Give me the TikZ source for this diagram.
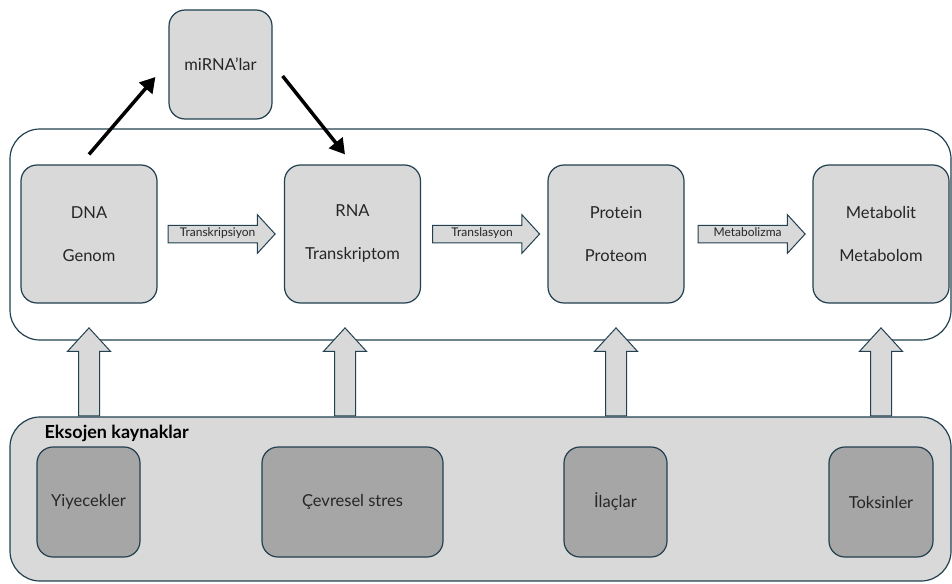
\documentclass[tikz,border=0pt]{standalone}
\usepackage{fontspec}
\setmainfont{Lato}
\usetikzlibrary{shapes.arrows,arrows.meta}

\definecolor{edgeblue}{HTML}{22404F}
\definecolor{boxgray}{HTML}{D9D9D9}
\definecolor{darkgray}{HTML}{A6A6A6}
\definecolor{textgray}{HTML}{262626}

\begin{document}
\begin{tikzpicture}[x=1pt, y=-1pt]

    %--- Styles
    \tikzset{
        omic box/.style={draw=edgeblue, line width=1.2pt, fill=boxgray, rounded corners=16pt,
            minimum width=136pt, minimum height=138pt, align=center, text=textgray,
            font=\fontsize{16.5}{19}\selectfont},
        source box/.style={draw=edgeblue, line width=1.2pt, fill=darkgray, rounded corners=16pt,
            minimum height=110pt, text=textgray, font=\fontsize{16.5}{19}\selectfont},
        flow arrow/.style={single arrow, draw=edgeblue, line width=1pt, fill=boxgray,
            single arrow head extend=10.5pt, single arrow tip angle=95, minimum height=107pt,
            inner xsep=2pt, inner ysep=3pt, text height=8pt, text depth=2.5pt, anchor=tail,
            text=textgray, font=\fontsize{12}{14}\selectfont},
        up arrow/.style={single arrow, draw=edgeblue, line width=1pt, fill=boxgray,
            shape border rotate=90, single arrow head extend=11pt, single arrow tip angle=85,
            minimum height=88pt, inner xsep=10pt, inner ysep=0pt, text width=0pt,
            anchor=tail},
        link/.style={line width=3.5pt, -{Triangle[length=15pt,width=17pt]}},
    }

    \useasboundingbox (0,0) rectangle (952,583);

    %--- Frame of the omics layers
    \node[draw=edgeblue, line width=1.2pt, rounded corners=30pt, minimum width=941pt,
          minimum height=211pt] (omics) at (480.5,234.5) {};

    %--- Omics layers
    \node[omic box] (dna)       at (89,234)    {DNA\\[24pt]Genom};
    \node[omic box] (rna)       at (352.5,234) {RNA\\[24pt]Transkriptom};
    \node[omic box] (protein)   at (616,234)   {Protein\\[24pt]Proteom};
    \node[omic box] (metabolit) at (881,234)   {Metabolit\\[24pt]Metabolom};

    %--- miRNA
    \node[omic box, minimum width=103pt, minimum height=109pt] (mirna) at (220.5,64.5) {miRNA’lar};

    %--- Flow between layers
    \node[flow arrow] (transkr) at ([xshift=10pt]dna.east)     {Transkripsiyon};
    \node[flow arrow] (transl)  at ([xshift=11pt]rna.east)     {Translasyon};
    \node[flow arrow] (metab)   at ([xshift=13pt]protein.east) {Metabolizma};

    %--- miRNA regulation
    \draw[link] ([yshift=10pt]dna.north) -- ([xshift=-13pt,yshift=-12.5pt]mirna.west);
    \draw[link] ([xshift=10pt,yshift=-11.5pt]mirna.east) -- ([xshift=-7.5pt,yshift=10pt]rna.north);

    %--- Exogenous sources
    \node[draw=edgeblue, line width=1.2pt, fill=boxgray, rounded corners=30pt, minimum width=941pt,
          minimum height=164pt] (ekso) at (480.5,499) {};
    \node[anchor=west, font=\fontsize{18}{21}\selectfont\bfseries, text=black] (eksotitle)
          at (41,433) {Eksojen kaynaklar};

    \node[source box, minimum width=103pt] (yiyecek) at (88.5,502)  {Yiyecekler};
    \node[source box, minimum width=181pt] (cevre)   at (352.5,502) {Çevresel stres};
    \node[source box, minimum width=103pt] (ilac)    at (615.5,502) {İlaçlar};
    \node[source box, minimum width=104pt] (toksin)  at (881,502)   {Toksinler};

    %--- Influence on the layers
    \node[up arrow] (u1) at (dna |- ekso.north) {};
    \node[up arrow] (u2) at ([xshift=-7.5pt]rna |- ekso.north) {};
    \node[up arrow] (u3) at (protein |- ekso.north) {};
    \node[up arrow] (u4) at (metabolit |- ekso.north) {};

\end{tikzpicture}
\end{document}
